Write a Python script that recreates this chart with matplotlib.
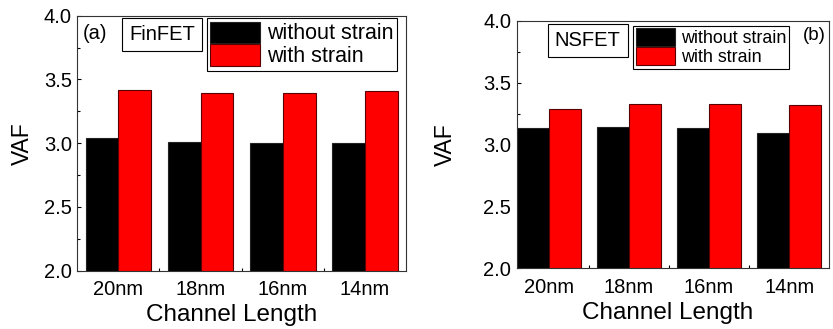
import matplotlib
matplotlib.use("Agg")
import matplotlib.pyplot as plt
from matplotlib.patches import Patch
from matplotlib.ticker import MultipleLocator, FixedLocator, FormatStrFormatter
import numpy as np

plt.rcParams['font.family'] = ['Liberation Sans', 'DejaVu Sans']

categories = ["20nm", "18nm", "16nm", "14nm"]
finfet_without = [3.04, 3.01, 3.00, 3.00]
finfet_with = [3.42, 3.39, 3.39, 3.41]
nsfet_without = [3.13, 3.14, 3.13, 3.095]
nsfet_with = [3.29, 3.33, 3.33, 3.32]
series_labels = ["without strain", "with strain"]

fig = plt.figure(figsize=(8.33, 3.29), dpi=100)
ax1 = fig.add_axes([0.0928, 0.1772, 0.3946, 0.775])
ax2 = fig.add_axes([0.6203, 0.1845, 0.3753, 0.7526])

red = "#ff0000"
w = 0.4


def draw(ax, without, with_, xlim, leg_fs, hl, hh, tag, tag_fs, tagpos,
         box, boxpos, legpos, ylab_x, xlab_pos):
    x = np.arange(1, len(categories) + 1)
    ax.bar(x - w / 2, without, width=w, color="black",
           edgecolor="#222222", linewidth=0.8)
    ax.bar(x + w / 2, with_, width=w, color=red,
           edgecolor="#5a0000", linewidth=0.8)
    ax.set_ylim(2.0, 4.0)
    ax.set_xlim(*xlim)
    ax.set_xticks(x)
    ax.set_xticklabels(categories, fontsize=14.5)
    ax.xaxis.set_minor_locator(FixedLocator(x[:-1] + 0.5))
    ax.yaxis.set_major_locator(MultipleLocator(0.5))
    ax.yaxis.set_minor_locator(MultipleLocator(0.25))
    ax.yaxis.set_major_formatter(FormatStrFormatter("%.1f"))
    ax.tick_params(axis="y", which="major", direction="in", length=3,
                   width=0.8, labelsize=14.5, pad=4)
    ax.tick_params(axis="y", which="minor", direction="in", length=2, width=0.8)
    ax.tick_params(axis="x", which="major", length=0, labelsize=14.5, pad=7)
    ax.tick_params(axis="x", which="minor", direction="in", length=2, width=0.8)
    for s in ax.spines.values():
        s.set_linewidth(0.8)
        s.set_color("#333333")
    ax.set_xlabel("Channel Length", fontsize=17.5, va="center")
    ax.xaxis.set_label_coords(xlab_pos[0], xlab_pos[1])
    ax.set_ylabel("VAF", fontsize=16.5, va="center")
    ax.yaxis.set_label_coords(ylab_x, 0.5)
    ax.text(tagpos[0], tagpos[1], tag, transform=ax.transAxes,
            fontsize=tag_fs, ha="left", va="center")
    ax.text(boxpos[0], boxpos[1], box, transform=ax.transAxes,
            fontsize=14.5, ha="center", va="center",
            bbox=dict(boxstyle="square,pad=0.35", fc="white", ec="black", lw=0.8))
    handles = [Patch(facecolor="black", edgecolor="#222222", lw=0.8),
               Patch(facecolor=red, edgecolor="#5a0000", lw=0.8)]
    leg = ax.legend(handles, series_labels, loc="upper left",
                    bbox_to_anchor=legpos, fontsize=leg_fs,
                    handlelength=hl, handleheight=hh, labelspacing=0.0,
                    borderpad=0.15, handletextpad=0.35, borderaxespad=0,
                    fancybox=False, framealpha=1, edgecolor="black")
    leg.get_frame().set_linewidth(0.8)


draw(ax1, finfet_without, finfet_with, (0.5, 4.5), 15.5, 2.3, 1.15,
     "(a)", 14.5, (0.017, 0.932), "FinFET", (0.258, 0.927), (0.394, 0.99),
     -0.168, (0.47, -0.174))
draw(ax2, nsfet_without, nsfet_with, (0.6, 4.5), 12.9, 2.15, 1.12,
     "(b)", 13.5, (0.915, 0.942), "NSFET", (0.2265, 0.92), (0.373, 0.98),
     -0.229, (0.484, -0.18))

fig.savefig("out.png", dpi=100)
